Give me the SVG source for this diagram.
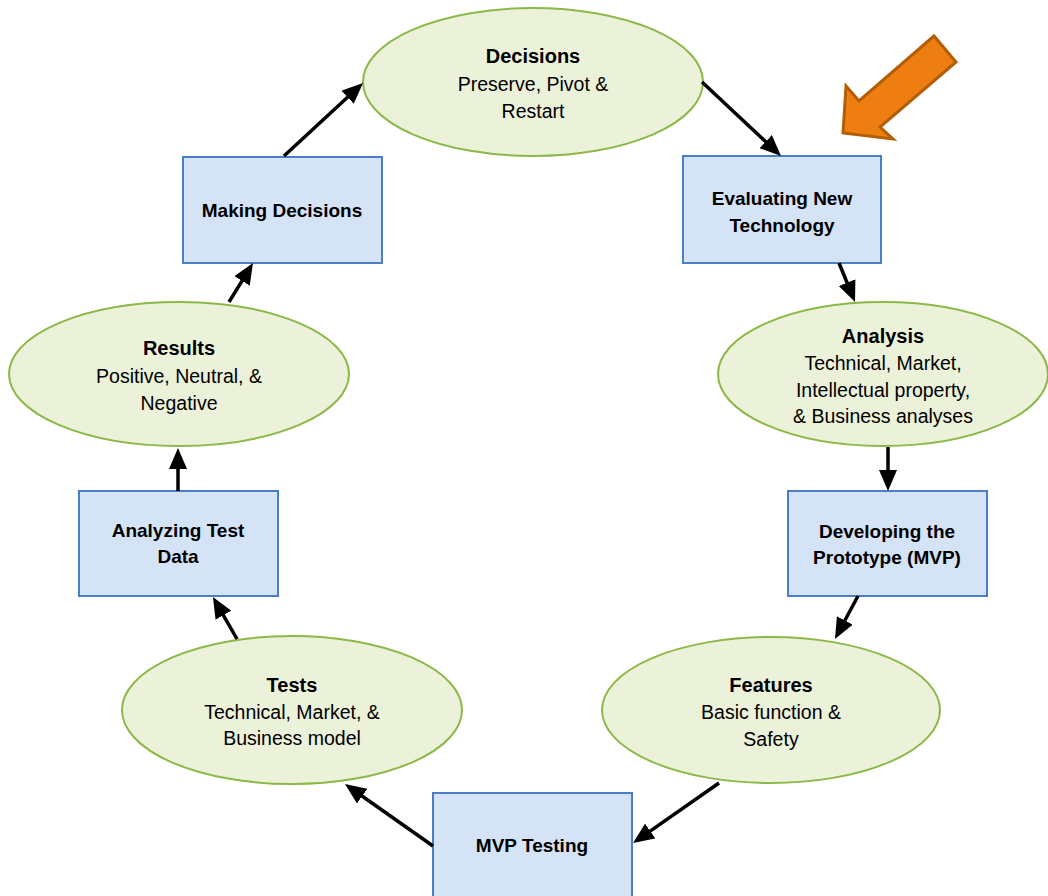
<svg xmlns="http://www.w3.org/2000/svg" width="1048" height="896" viewBox="0 0 1048 896">
  <style>
    .oval { fill: #EBF2D9; stroke: #8DB848; stroke-width: 2; }
    .box { fill: #D5E3F6; stroke: #4A7EC6; stroke-width: 2; }
    text { font-family: "Liberation Sans", Arial, sans-serif; fill: #000; text-anchor: middle; }
    .title { font-size: 20px; font-weight: bold; }
    .body { font-size: 19.5px; }
    .label { font-size: 19px; font-weight: bold; }
    .conn { stroke: #000; stroke-width: 3.5; fill: none; marker-end: url(#head); }
  </style>
  <defs>
    <marker id="head" viewBox="0 0 21 18" refX="8" refY="9" markerWidth="21" markerHeight="18" markerUnits="userSpaceOnUse" orient="auto">
      <path d="M0,0 L21,9 L0,18 z" fill="#000"/>
    </marker>
  </defs>

  <rect width="1048" height="896" fill="#fff"/>

  <!-- cycle nodes -->
  <g id="decisions">
    <ellipse class="oval" cx="533" cy="82" rx="170" ry="74"/>
    <text class="title" x="533" y="63">Decisions</text>
    <text class="body" x="533" y="91">Preserve, Pivot &amp;</text>
    <text class="body" x="533" y="118">Restart</text>
  </g>

  <g id="evaluating">
    <rect class="box" x="683" y="156" width="198" height="107"/>
    <text class="label" x="782" y="205">Evaluating New</text>
    <text class="label" x="782" y="232">Technology</text>
  </g>

  <g id="analysis">
    <ellipse class="oval" cx="883" cy="374" rx="165" ry="72"/>
    <text class="title" x="883" y="343">Analysis</text>
    <text class="body" x="883" y="370">Technical, Market,</text>
    <text class="body" x="883" y="397">Intellectual property,</text>
    <text class="body" x="883" y="423">&amp; Business analyses</text>
  </g>

  <g id="prototype">
    <rect class="box" x="788" y="491" width="199" height="105"/>
    <text class="label" x="887" y="538">Developing the</text>
    <text class="label" x="887" y="564">Prototype (MVP)</text>
  </g>

  <g id="features">
    <ellipse class="oval" cx="771" cy="710" rx="169" ry="73"/>
    <text class="title" x="771" y="692">Features</text>
    <text class="body" x="771" y="719">Basic function &amp;</text>
    <text class="body" x="771" y="746">Safety</text>
  </g>

  <g id="mvp-testing">
    <rect class="box" x="433" y="793" width="199" height="112"/>
    <text class="label" x="532" y="852">MVP Testing</text>
  </g>

  <g id="tests">
    <ellipse class="oval" cx="292" cy="710" rx="170" ry="74"/>
    <text class="title" x="292" y="692">Tests</text>
    <text class="body" x="292" y="719">Technical, Market, &amp;</text>
    <text class="body" x="292" y="745">Business model</text>
  </g>

  <g id="analyzing">
    <rect class="box" x="79" y="491" width="199" height="105"/>
    <text class="label" x="178" y="537">Analyzing Test</text>
    <text class="label" x="178" y="563">Data</text>
  </g>

  <g id="results">
    <ellipse class="oval" cx="179" cy="374" rx="170" ry="72"/>
    <text class="title" x="179" y="355">Results</text>
    <text class="body" x="179" y="383">Positive, Neutral, &amp;</text>
    <text class="body" x="179" y="410">Negative</text>
  </g>

  <g id="making-decisions">
    <rect class="box" x="183" y="157" width="199" height="106"/>
    <text class="label" x="282" y="217">Making Decisions</text>
  </g>

  <!-- connectors: each line stops 13px short of the arrow tip -->
  <g id="connectors">
    <line class="conn" x1="702" y1="82" x2="771.5" y2="147.1"/>
    <line class="conn" x1="839" y1="263" x2="850.1" y2="290"/>
    <line class="conn" x1="888" y1="447" x2="888" y2="478"/>
    <line class="conn" x1="858" y1="596" x2="841.1" y2="627.5"/>
    <line class="conn" x1="719" y1="783" x2="643.7" y2="835.6"/>
    <line class="conn" x1="433" y1="846" x2="355.6" y2="791.5"/>
    <line class="conn" x1="237" y1="639" x2="219.4" y2="608.3"/>
    <line class="conn" x1="178" y1="491" x2="178" y2="461"/>
    <line class="conn" x1="229" y1="302" x2="246.2" y2="274.1"/>
    <line class="conn" x1="284" y1="156" x2="353.5" y2="91.8"/>
  </g>

  <!-- highlight pointer -->
  <g id="pointer">
    <polygon points="843,133 846,86 859,101 934,36 956,62 880,127 893,139" fill="#EF7E12" stroke="#B35E05" stroke-width="3" stroke-linejoin="miter"/>
  </g>
</svg>
